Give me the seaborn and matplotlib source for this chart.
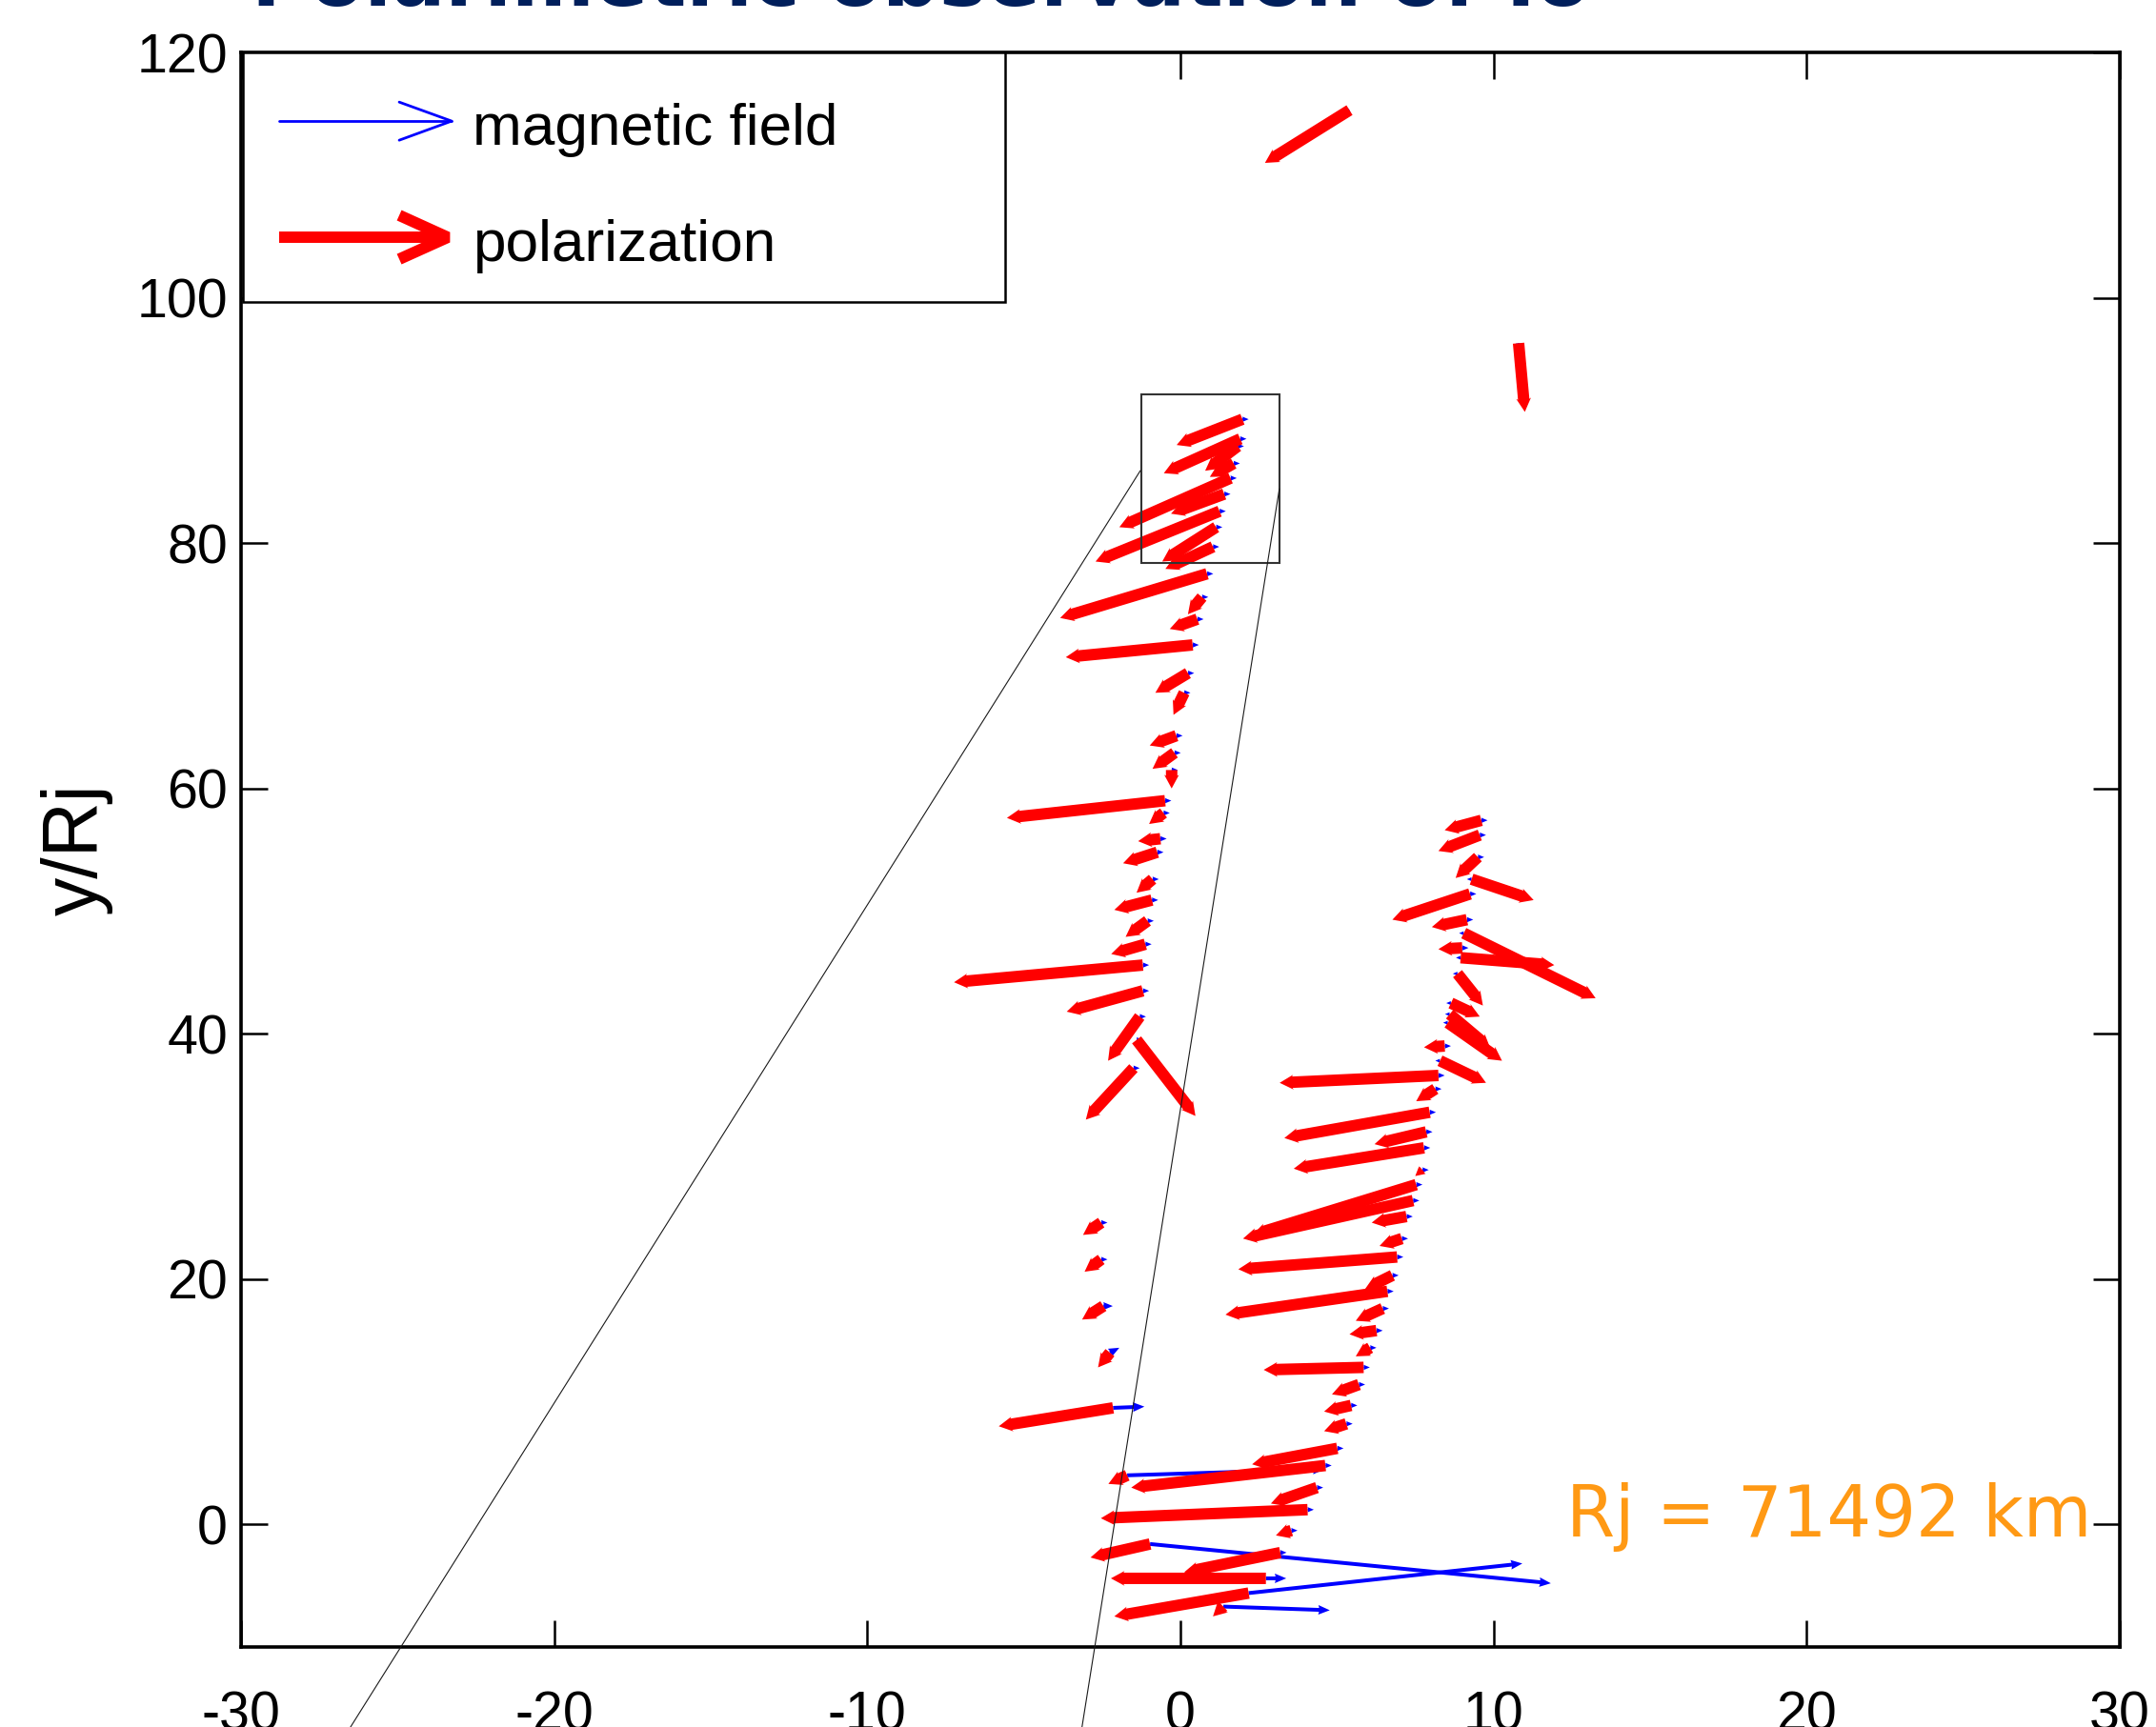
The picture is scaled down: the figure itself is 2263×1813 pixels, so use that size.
import matplotlib
matplotlib.use("Agg")
import matplotlib.pyplot as plt
from matplotlib import font_manager
from matplotlib.patches import Rectangle
import numpy as np
import seaborn as sns

# track A: left chain of observation points (+ two isolated ones at the top)
xa = [5.4, 10.8, 1.98, 1.91, 1.83, 1.70, 1.60, 1.40, 1.25, 1.14, 1.04, 0.85, 0.69, 0.54, 0.39,
      0.24, 0.12, -0.13, -0.19, -0.28, -0.49, -0.54, -0.64, -0.74, -0.89, -0.91, -1.05, -1.12,
      -1.20, -1.20, -1.30, -1.40, -1.50, -2.53, -2.53, -2.46, -2.25, -2.15, -1.70, -0.97]
ya = [115.3, 96.3, 90.1, 88.5, 87.9, 86.5, 85.3, 84.0, 82.6, 81.3, 79.7, 77.5, 75.6, 73.8, 71.7,
      69.4, 67.8, 64.3, 62.9, 61.5, 59.0, 58.0, 55.9, 54.8, 52.6, 50.9, 49.2, 47.3,
      45.6, 43.5, 41.4, 39.5, 37.2, 24.6, 21.6, 17.8, 14.0, 9.5, 4.0, -1.6]
# polarization vectors (red)
pua = [-2.7, 0.2, -2.1, -2.44, -1.04, -0.76, -3.55, -1.7, -3.96, -1.72, -1.52, -4.69, -0.45, -0.88, -4.05,
       -1.04, -0.34, -0.85, -0.70, 0.0, -5.05, -0.46, -0.71, -1.09, -0.51, -1.20, -0.70, -1.09,
       -6.03, -2.43, -1.01, 1.88, -1.52, -0.58, -0.53, -0.68, -0.38, -3.65, -0.6, -1.9]
pva = [-4.3, -5.6, -2.1, -2.8, -2.0, -1.1, -4.0, -1.6, -4.1, -2.8, -1.8, -3.6, -1.4, -0.8, -1.0,
       -1.6, -1.8, -0.8, -1.3, -1.5, -1.4, -0.9, -0.2, -0.9, -1.1, -0.8, -1.3, -0.8,
       -1.4, -1.7, -3.6, -6.2, -4.2, -1.0, -1.0, -1.1, -1.2, -1.5, -0.7, -1.1]
# magnetic field vectors (blue)
bua = [-0.2, 0.0, 0.2, 0.2, 0.2, 0.2, 0.2, 0.2, 0.2, 0.2, 0.2, 0.2, 0.2, 0.2, 0.2,
       0.2, 0.2, 0.2, 0.2, 0.2, 0.2, 0.2, 0.2, 0.2, 0.2, 0.2, 0.2, 0.2,
       0.2, 0.2, 0.2, 0.2, 0.2, 0.2, 0.2, 0.3, 0.3, 1.0, 6.3, 12.8]
bva = [-0.3, -0.5, 0, 0, 0, 0, 0, 0, 0, 0, 0, 0, 0, 0, 0,
       0, 0, 0, 0, 0, 0, 0, 0, 0, 0, 0, 0, 0,
       0, 0, 0, 0, 0, 0, 0, 0, 0.4, 0.1, 0.5, -3.2]

# track B: right chain
xb = [9.61, 9.56, 9.50, 9.30, 9.25, 9.15, 9.05, 9.00, 8.95, 8.85, 8.64, 8.60, 8.54, 8.44, 8.29,
      8.24, 8.14, 7.96, 7.85, 7.78, 7.73, 7.53, 7.43, 7.22, 7.07, 6.92, 6.77, 6.61, 6.46, 6.26,
      6.06, 5.85, 5.70, 5.45, 5.30, 5.01, 4.63, 4.36, 4.06, 3.54, 3.19, 2.73, 2.18, 1.37]
yb = [57.4, 56.2, 54.4, 52.6, 51.4, 49.3, 48.2, 47.0, 46.2, 44.9, 42.5, 41.6, 40.9, 39.0, 37.8,
      36.6, 35.5, 33.6, 32.0, 30.7, 28.9, 27.7, 26.4, 25.1, 23.3, 21.8, 20.3, 19.0, 17.6, 15.8,
      14.4, 12.8, 11.4, 9.7, 8.2, 6.2, 4.8, 3.0, 1.2, -0.5, -2.3, -4.4, -5.6, -6.7]
pub = [-1.17, -1.32, -0.71, 1.98, -2.48, -1.12, 4.21, -0.76, 2.99, 0.81, 0.92, 1.30, 1.73, -0.66, 1.47,
       -5.07, -0.61, -4.64, -1.65, -4.16, -0.23, -5.23, -5.43, -1.11, -0.71, -5.07, -0.87, -5.17, -0.86, -0.86,
       -0.46, -3.19, -0.86, -0.86, -0.71, -2.72, -6.20, -1.47, -6.60, -0.49, -3.07, -4.95, -4.29, -0.33]
pvb = [-0.8, -1.3, -1.7, -1.7, -2.1, -0.6, -5.3, -0.1, -0.6, -2.6, -1.1, -2.8, -3.1, -0.1, -1.8,
       -0.6, -1.0, -2.1, -1.0, -1.7, -0.5, -4.1, -3.1, -0.5, -0.6, -1.0, -1.1, -1.9, -1.0, -0.3,
       -0.7, -0.2, -0.8, -0.5, -0.6, -1.3, -1.8, -1.3, -0.7, -0.4, -1.6, 0.0, -1.9, -0.8]
bub = [0.2, 0.2, 0.2, -0.15, 0.2, 0.2, -0.15, 0.2, -0.15, -0.15, -0.15, -0.15, -0.15, 0.2, -0.15,
       0.2, 0.2, 0.2, 0.2, 0.2, 0.2, 0.2, 0.2, 0.2, 0.2, 0.2, 0.2, 0.2, 0.2, 0.2,
       0.2, 0.2, 0.2, 0.2, 0.2, 0.2, 0.2, 0.2, 0.2, 0.2, 0.2, 0.65, 8.74, 3.4]
bvb = [0, 0, 0, 0, 0, 0, 0, 0, 0, 0, 0, 0, 0, 0, 0,
       0, 0, 0, 0, 0, 0, 0, 0, 0, 0, 0, 0, 0, 0, 0,
       0, 0, 0, 0, 0, 0, 0, 0, 0, 0, 0, 0, 2.41, -0.3]

x_ticks = [-30, -20, -10, 0, 10, 20, 30]
y_ticks = [0, 20, 40, 60, 80, 100, 120]

# zoom box and the connector lines leaving it
box_x = [-1.25, 3.16]
box_y = [78.37, 92.12]
conn_a_x, conn_a_y = [-1.28, -27.36], [85.91, -20]
conn_b_x, conn_b_y = [3.16, -3.36], [84.43, -20]

x = np.array(xa + xb)
y = np.array(ya + yb)
pu = np.array(pua + pub)
pv = np.array(pva + pvb)
bu = np.array(bua + bub)
bv = np.array(bva + bvb)

sns.set_style("ticks", {"xtick.direction": "in", "ytick.direction": "in",
                        "axes.edgecolor": "black", "text.color": "black",
                        "axes.labelcolor": "black", "xtick.color": "black", "ytick.color": "black"})
names = {f.name for f in font_manager.fontManager.ttflist}
if "Liberation Sans Narrow" in names:
    narrow, shrink = "Liberation Sans Narrow", 1.0
else:
    narrow, shrink = "Liberation Sans", 0.86
plt.rcParams["font.family"] = [narrow, "DejaVu Sans"]
plt.rcParams["axes.unicode_minus"] = False

fig = plt.figure(figsize=(22.63, 18.13), dpi=100)
ax = fig.add_axes([0.1118, 0.0463, 0.8714, 0.9233])

# magnetic field first, polarization on top
ax.quiver(x, y, bu, bv, angles="xy", scale_units="xy", scale=1, units="dots", width=4,
          headwidth=2.5, headlength=3, headaxislength=2.8, minlength=0, color="#0000ff", zorder=2)
ax.quiver(x, y, pu, pv, angles="xy", scale_units="xy", scale=1, units="dots", width=12,
          headwidth=1.3, headlength=1.2, headaxislength=1.1, minlength=0, color="#ff0000", zorder=3)

ax.add_patch(Rectangle((box_x[0], box_y[0]), box_x[1] - box_x[0], box_y[1] - box_y[0],
                       fill=False, ec="0.2", lw=1.5, zorder=4))
ax.plot(conn_a_x, conn_a_y, color="0.1", lw=0.8, clip_on=False, zorder=4)
ax.plot(conn_b_x, conn_b_y, color="0.1", lw=0.8, clip_on=False, zorder=4)

ax.set_xlim(-30, 30)
ax.set_ylim(-10, 120)
ax.set_xticks(x_ticks)
ax.set_yticks(y_ticks)
ax.tick_params(which="both", direction="in", top=True, right=True, length=20, width=1.8,
               labelsize=48 * shrink, colors="black")
ax.tick_params(axis="x", pad=33)
ax.tick_params(axis="y", pad=10)
for s in ax.spines.values():
    s.set_linewidth(2.6)
    s.set_color("black")
ax.set_ylabel("y/Rj", fontsize=58, family=["Liberation Sans", "DejaVu Sans"], labelpad=18,
              color="black")

# legend box drawn by hand (MATLAB style)
ax.add_patch(Rectangle((0.001, 0.8435), 0.4057, 0.1565, transform=ax.transAxes,
                       fill=True, fc="white", ec="black", lw=1.8, zorder=6))
ax.plot([0.0203, 0.1121], [0.9570, 0.9570], color="#0000ff", lw=2, transform=ax.transAxes, zorder=7)
ax.plot([0.0842, 0.1121, 0.0842], [0.9689, 0.9570, 0.9450], color="#0000ff", lw=2,
        transform=ax.transAxes, zorder=7)
ax.plot([0.0203, 0.1100], [0.8841, 0.8841], color="#ff0000", lw=8.6, solid_capstyle="butt",
        transform=ax.transAxes, zorder=7)
ax.plot([0.0842, 0.1100, 0.0842], [0.8979, 0.8841, 0.8704], color="#ff0000", lw=8.6,
        solid_joinstyle="bevel", solid_capstyle="butt", transform=ax.transAxes, zorder=7)
ax.text(0.1232, 0.9421, "magnetic field", transform=ax.transAxes, fontsize=52 * shrink,
        va="baseline", color="black", zorder=8)
ax.text(0.1232, 0.8692, "polarization", transform=ax.transAxes, fontsize=52 * shrink,
        va="baseline", color="black", zorder=8)

ax.text(29.1, -1.0, "Rj = 71492 km", color="#ff9914", fontsize=53, ha="right", va="baseline",
        family=["DejaVu Sans"])

fig.text(264 / 2263, 1 - 6 / 1813, "Polarimetric observation of Io", fontsize=60,
         fontweight="bold", color="#001f5b", family=["DejaVu Sans"], va="baseline")

fig.savefig("out.png", dpi=100)
